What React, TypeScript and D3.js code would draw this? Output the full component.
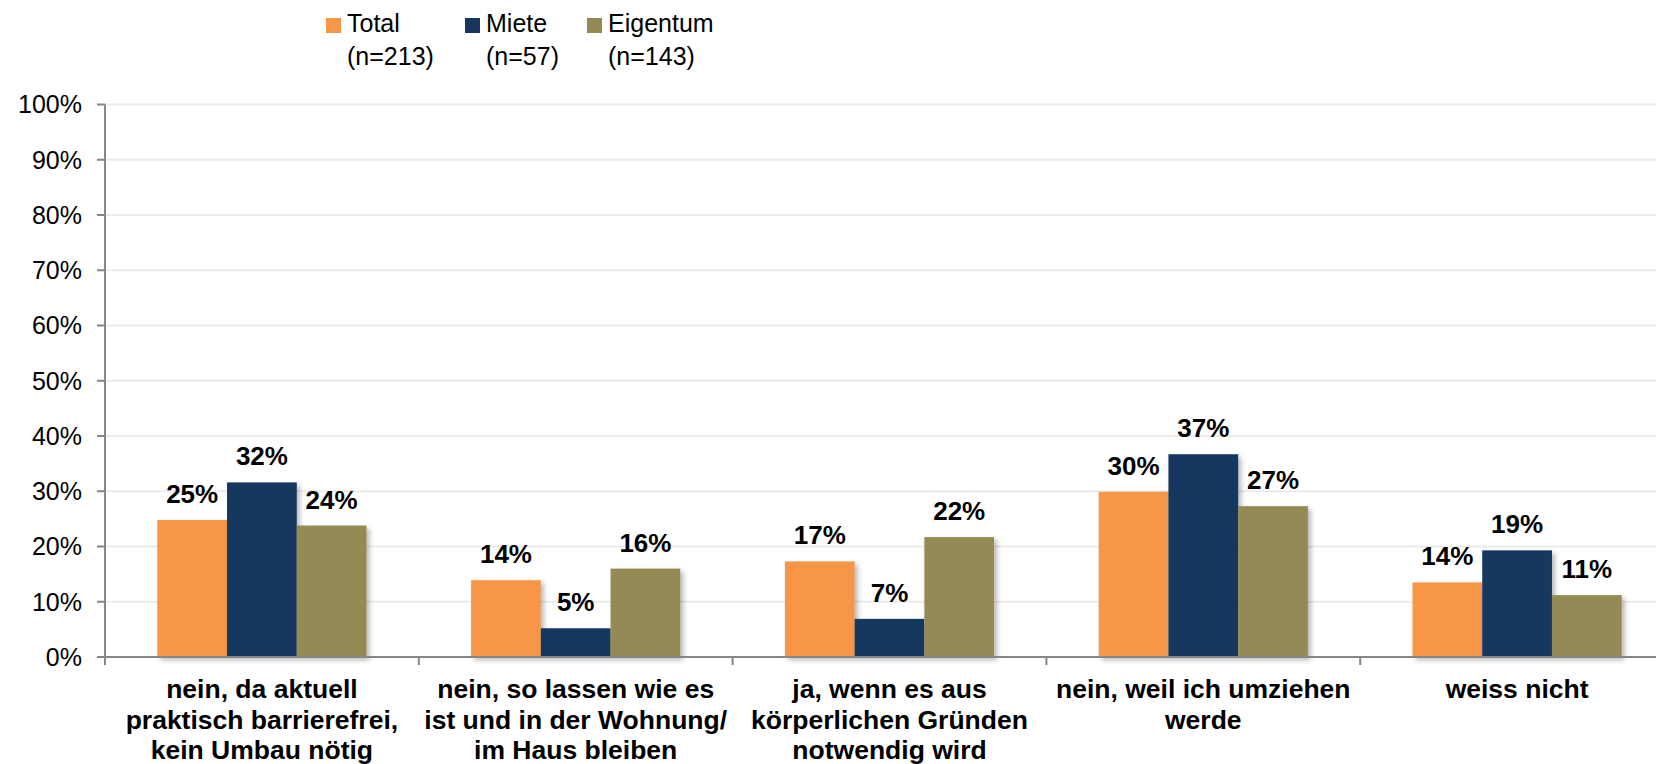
import React from "react";
import * as d3 from "d3";

const categories: string[][] = [
  ["nein, da aktuell", "praktisch barrierefrei,", "kein Umbau nötig"],
  ["nein, so lassen wie es", "ist und in der Wohnung/", "im Haus bleiben"],
  ["ja, wenn es aus", "körperlichen Gründen", "notwendig wird"],
  ["nein, weil ich umziehen", "werde"],
  ["weiss nicht"],
];
const seriesNames = ["Total", "Miete", "Eigentum"];
const seriesN = ["(n=213)", "(n=57)", "(n=143)"];
const total = [0.248, 0.139, 0.173, 0.299, 0.135];
const miete = [0.316, 0.052, 0.069, 0.367, 0.193];
const eigentum = [0.238, 0.16, 0.217, 0.273, 0.112];
const yTicks = [0, 0.1, 0.2, 0.3, 0.4, 0.5, 0.6, 0.7, 0.8, 0.9, 1.0];
const colors = ["#F79646", "#17375E", "#948A54"];

const W = 1656;
const H = 764;
const FONT = "'Liberation Sans', Arial, Helvetica, sans-serif";

export default function App() {
  const series = [total, miete, eigentum];
  const catIdx = categories.map((_, i) => String(i));
  const x0 = d3.scaleBand<string>().domain(catIdx).range([105, 105 + 5 * 313.8]).paddingInner(0).paddingOuter(0);
  const x1 = d3.scaleBand<string>().domain(seriesNames).range([0, x0.bandwidth()]).paddingInner(0).paddingOuter(0.75);
  const y = d3.scaleLinear().domain([0, 1]).range([657, 104.5]);
  const left = 105;
  const right = W + 30;
  const legendX = [326, 465, 587];

  return (
    <svg
      width={W}
      height={H}
      viewBox={`0 0 ${W} ${H}`}
      style={{ position: "absolute", left: 0, top: 0, display: "block", background: "#fff" }}
      fontFamily={FONT}
    >
      <defs>
        <filter id="sh" x="-20%" y="-20%" width="150%" height="150%">
          <feDropShadow dx="3" dy="3" stdDeviation="2.5" floodColor="#000" floodOpacity="0.28" />
        </filter>
      </defs>
      {/* gridlines */}
      {yTicks.map((t) => (
        <line key={"g" + t} x1={left} x2={right} y1={y(t)} y2={y(t)} stroke="#EBEBEB" strokeWidth={2} />
      ))}
      {/* bars */}
      {catIdx.map((c, ci) => (
        <g key={"c" + c}>
          {seriesNames.map((s, si) => {
            const v = series[si][ci];
            const bx = (x0(c) as number) + (x1(s) as number);
            return (
              <rect
                key={s}
                x={bx}
                y={y(v)}
                width={x1.bandwidth()}
                height={y(0) - y(v)}
                fill={colors[si]}
                filter="url(#sh)"
              />
            );
          })}
          {seriesNames.map((s, si) => {
            const v = series[si][ci];
            const bx = (x0(c) as number) + (x1(s) as number) + x1.bandwidth() / 2;
            return (
              <text
                key={"l" + s}
                x={bx}
                y={y(v) - 17}
                textAnchor="middle"
                fontSize={26}
                fontWeight="bold"
                fill="#000"
              >
                {Math.round(v * 100) + "%"}
              </text>
            );
          })}
        </g>
      ))}
      {/* y axis */}
      <line x1={left} x2={left} y1={y(1)} y2={y(0) + 8} stroke="#868686" strokeWidth={2} />
      {yTicks.map((t) => (
        <g key={"t" + t}>
          <line x1={97} x2={left} y1={y(t)} y2={y(t)} stroke="#868686" strokeWidth={2} />
          <text x={82} y={y(t) + 8.8} textAnchor="end" fontSize={25} fill="#000">
            {Math.round(t * 100) + "%"}
          </text>
        </g>
      ))}
      {/* x axis */}
      <line x1={left} x2={right} y1={y(0)} y2={y(0)} stroke="#868686" strokeWidth={2} />
      {catIdx.map((c) => (
        <line
          key={"xt" + c}
          x1={(x0(c) as number) + x0.bandwidth()}
          x2={(x0(c) as number) + x0.bandwidth()}
          y1={y(0)}
          y2={y(0) + 8}
          stroke="#868686"
          strokeWidth={2}
        />
      ))}
      {categories.map((lines, ci) => (
        <text
          key={"cl" + ci}
          x={(x0(String(ci)) as number) + x0.bandwidth() / 2}
          textAnchor="middle"
          fontSize={26.5}
          fontWeight="bold"
          fill="#000"
        >
          {lines.map((ln, li) => (
            <tspan key={li} x={(x0(String(ci)) as number) + x0.bandwidth() / 2} y={698 + li * 30.5}>
              {ln}
            </tspan>
          ))}
        </text>
      ))}
      {/* legend */}
      {seriesNames.map((s, si) => (
        <g key={"lg" + s}>
          <rect x={legendX[si]} y={18} width={15} height={15} fill={colors[si]} />
          <text x={legendX[si] + 21} y={32} fontSize={25} fill="#000">
            {s}
          </text>
          <text x={legendX[si] + 21} y={65} fontSize={25} fill="#000">
            {seriesN[si]}
          </text>
        </g>
      ))}
    </svg>
  );
}
